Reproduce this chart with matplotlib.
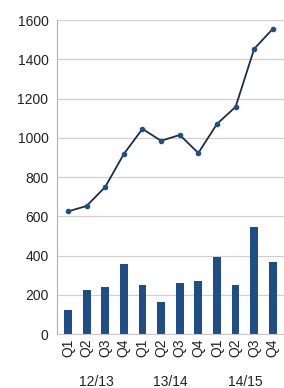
import numpy as np
import matplotlib.pyplot as plt

# quarterly data, three financial years
quarters = ["Q1", "Q2", "Q3", "Q4"] * 3
years = ["12/13", "13/14", "14/15"]
line_values = [625, 653, 750, 918, 1046, 985, 1015, 923, 1071, 1158, 1454, 1556]
bar_values = [122, 224, 240, 357, 250, 163, 260, 270, 393, 250, 546, 367]

plt.rcParams['font.family'] = ['Liberation Sans', 'DejaVu Sans']

fig = plt.figure(figsize=(2.84, 3.88), dpi=100)
ax = fig.add_axes([0.2, 0.139, 0.8, 0.809])

x = np.arange(len(quarters))
ax.bar(x, bar_values, width=0.42, color='#1f4e87', zorder=2)
ax.plot(x, line_values, color='#1c2c4a', linewidth=1.3, marker='o',
        markersize=3, markerfacecolor='#1f4e87', markeredgecolor='#1f4e87', zorder=3)

ax.set_xlim(-0.6, len(quarters) - 0.4)
ax.set_ylim(0, 1600)
ax.set_yticks(range(0, 1601, 200))
ax.tick_params(axis='y', labelsize=10, length=0, pad=6, colors='#222222')
ax.set_xticks(x)
ax.set_xticklabels(quarters, rotation=90, fontsize=10, color='#222222')
ax.tick_params(axis='x', length=0, pad=3)
ax.grid(axis='y', color='#d0d0d0', linewidth=0.9, zorder=0)

for s in ['top', 'right']:
    ax.spines[s].set_visible(False)
ax.spines['left'].set_color('#b0b0b0')
ax.spines['bottom'].set_color('#c8c8c8')

# year group labels under each block of quarters
for i, yr in enumerate(years):
    ax.text(i * 4 + 1.5, -0.13, yr, transform=ax.get_xaxis_transform(),
            ha='center', va='top', fontsize=10, color='#222222')

fig.savefig('out.png', dpi=100)
